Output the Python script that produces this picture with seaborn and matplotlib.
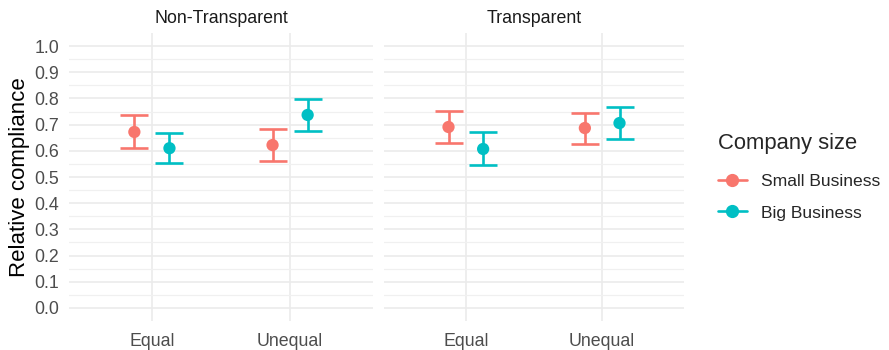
import numpy as np
import pandas as pd
import matplotlib
matplotlib.use("Agg")
import matplotlib.pyplot as plt
from matplotlib.lines import Line2D
import seaborn as sns

# Relative compliance by condition, with confidence bounds
panels = ["Non-Transparent", "Transparent"]
conditions = ["Equal", "Unequal"]
sizes = ["Small Business", "Big Business"]

small_mean = [0.672, 0.622, 0.691, 0.687]
small_lo = [0.611, 0.561, 0.630, 0.626]
small_hi = [0.737, 0.683, 0.752, 0.745]
big_mean = [0.610, 0.737, 0.607, 0.706]
big_lo = [0.553, 0.676, 0.545, 0.645]
big_hi = [0.668, 0.798, 0.670, 0.767]

yticks = [0.0, 0.1, 0.2, 0.3, 0.4, 0.5, 0.6, 0.7, 0.8, 0.9, 1.0]
colors = {"Small Business": "#F8766D", "Big Business": "#00BFC4"}

rows = []
for i, (p, c) in enumerate([(p, c) for p in panels for c in conditions]):
    rows.append(dict(panel=p, cond=c, size="Small Business",
                     mean=small_mean[i], lo=small_lo[i], hi=small_hi[i]))
    rows.append(dict(panel=p, cond=c, size="Big Business",
                     mean=big_mean[i], lo=big_lo[i], hi=big_hi[i]))
df = pd.DataFrame(rows)
dodge = {"Small Business": -0.127, "Big Business": 0.127}
df["x"] = df["cond"].map({c: k for k, c in enumerate(conditions)}) + df["size"].map(dodge)

sns.set_theme(style="white")
plt.rcParams["font.family"] = ["Liberation Sans", "DejaVu Sans"]

fig = plt.figure(figsize=(8.89, 3.5), dpi=100)
W, H = 889, 350
panel_px = [(69, 373), (384, 684)]
top_px, bot_px = 33, 321

for pi, (panel, (l, r)) in enumerate(zip(panels, panel_px)):
    ax = fig.add_axes([l / W, 1 - bot_px / H, (r - l) / W, (bot_px - top_px) / H])
    sub = df[df["panel"] == panel]
    for s in sizes:
        d = sub[sub["size"] == s]
        ax.errorbar(d["x"], d["mean"], yerr=[d["mean"] - d["lo"], d["hi"] - d["mean"]],
                    fmt="none", ecolor=colors[s], elinewidth=1.9, capsize=10.4,
                    capthick=1.9, zorder=3)
    sns.scatterplot(data=sub, x="x", y="mean", hue="size", palette=colors,
                    hue_order=sizes, s=78, edgecolor="none", legend=False,
                    ax=ax, zorder=4)
    ax.set_xlim(-0.6, 1.6)
    ax.set_ylim(-0.05, 1.05)
    ax.set_xticks(range(len(conditions)))
    ax.set_xticklabels(conditions)
    ax.set_yticks(yticks)
    ax.set_yticks(np.arange(0.05, 1.0, 0.1), minor=True)
    ax.set_yticklabels([f"{v:.1f}" for v in yticks])
    ax.grid(True, which="major", color="#EBEBEB", linewidth=1.2)
    ax.grid(True, which="minor", axis="y", color="#F0F0F0", linewidth=0.9)
    ax.set_axisbelow(True)
    for sp in ax.spines.values():
        sp.set_visible(False)
    ax.tick_params(axis="both", which="both", length=0, labelsize=12.8,
                   labelcolor="#4D4D4D", pad=7)
    ax.tick_params(axis="x", pad=9)
    ax.set_xlabel("")
    ax.set_title(panel, fontsize=12.8, color="#1A1A1A", pad=7)
    if pi == 0:
        ax.set_ylabel("Relative compliance", fontsize=16, color="#000000", labelpad=3)
    else:
        ax.set_ylabel("")
        ax.tick_params(axis="y", labelleft=False)

handles = [Line2D([0], [0], color=colors[s], marker="o", markersize=8.5, linewidth=1.9)
           for s in sizes]
leg = fig.legend(handles, sizes, title="Company size", loc="upper left",
                 bbox_to_anchor=(718 / W, 1 - 133 / H), frameon=False,
                 borderpad=0, borderaxespad=0,
                 fontsize=12.6, title_fontsize=15.8, handlelength=1.65,
                 handletextpad=0.8, labelspacing=0.95, alignment="left")
leg._legend_box.sep = 14

fig.savefig("out.png", dpi=100)
